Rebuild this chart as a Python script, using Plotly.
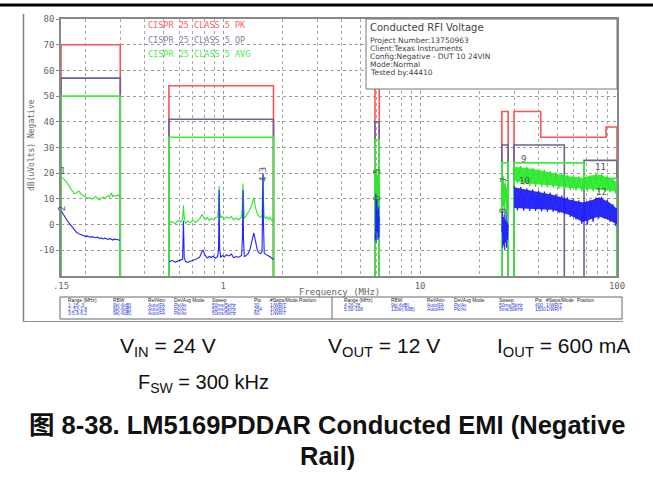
import math
import plotly.graph_objects as go

# ---------------- data ----------------
# CISPR 25 class 5 limit bands (MHz, dBuV)
PK_START = [0.15, 0.53, 5.9, 26, 30, 41, 88]
PK_END = [0.3, 1.8, 6.2, 28, 41, 88, 100]
PK_LEVEL = [70, 54, 53, 44, 44, 34, 38]

QP_START = [0.15, 0.53, 5.9, 26, 30, 68]
QP_END = [0.3, 1.8, 6.2, 28, 54, 100]
QP_LEVEL = [57, 41, 40, 31, 31, 25]

AVG_START = [0.15, 0.53, 5.9, 26, 30, 68]
AVG_END = [0.3, 1.8, 6.2, 28, 68, 100]
AVG_LEVEL = [50, 34, 33, 24, 24, 18]

# Range 1: 0.15 - 0.3 MHz
R1_FREQ = [0.150, 0.155, 0.160, 0.165, 0.170, 0.175, 0.180, 0.185, 0.190, 0.195, 0.200,
           0.205, 0.210, 0.215, 0.220, 0.225, 0.230, 0.235, 0.240, 0.245, 0.250, 0.255,
           0.260, 0.265, 0.270, 0.275, 0.280, 0.285, 0.290, 0.295, 0.300]
R1_PEAK = [18.5, 17.8, 16.5, 14.8, 13.2, 12.0, 12.4, 13.1, 11.8, 11.2, 10.6,
           10.2, 10.5, 9.9, 10.3, 11.0, 10.1, 9.6, 10.3, 10.8, 10.2, 10.6,
           11.2, 10.7, 12.3, 10.9, 11.4, 11.0, 11.6, 11.2, 11.4]
R1_AVG = [5.5, 3.6, 2.0, 0.6, -0.8, -2.0, -3.0, -3.6, -4.0, -4.3, -4.6,
          -4.5, -4.9, -4.7, -5.0, -5.1, -4.9, -5.4, -5.2, -5.6, -5.3, -5.5,
          -5.8, -5.4, -5.7, -6.0, -5.6, -5.9, -5.7, -6.1, -6.0]

# Range 2: 0.53 - 1.8 MHz
R2_FREQ = [0.53, 0.55, 0.57, 0.59, 0.61, 0.622, 0.628, 0.634, 0.645, 0.66, 0.68, 0.70,
           0.72, 0.74, 0.76, 0.78, 0.79, 0.81, 0.83, 0.85, 0.87, 0.89, 0.91, 0.935,
           0.947, 0.953, 0.959, 0.97, 0.99, 1.01, 1.04, 1.07, 1.10, 1.13, 1.16, 1.20,
           1.24, 1.252, 1.26, 1.268, 1.28, 1.31, 1.34, 1.37, 1.40, 1.43, 1.46, 1.49,
           1.52, 1.55, 1.575, 1.585, 1.592, 1.60, 1.615, 1.64, 1.67, 1.70, 1.73, 1.76,
           1.78, 1.80]
R2_PEAK = [0.5, 1.2, 0.3, 1.6, 1.0, 2.0, 7.5, 2.5, 0.4, 1.5, 0.6, 1.8,
           0.9, 1.4, 2.3, 4.0, 3.2, 2.0, 2.8, 1.6, 2.5, 1.9, 2.6, 3.0,
           6.0, 15.0, 6.0, 2.6, 3.3, 2.1, 3.0, 2.4, 3.1, 1.8, 2.6, 1.9,
           3.0, 8.0, 16.0, 8.0, 2.4, 3.5, 4.8, 6.0, 8.0, 10.5, 6.5, 4.2,
           3.2, 2.8, 3.5, 12.0, 20.0, 10.0, 3.0, 2.5, 3.1, 2.0, 2.8, 1.6,
           2.2, 1.4]
R2_AVG = [-14.5, -14.0, -14.6, -14.2, -13.8, -13.5, 1.5, -13.0, -14.4, -14.7, -14.3, -13.8,
          -13.6, -13.2, -12.6, -10.5, -10.0, -12.0, -13.0, -12.4, -12.8, -12.2, -13.1, -12.5,
          -10.0, 13.5, -9.0, -12.8, -12.0, -12.6, -11.8, -12.2, -11.5, -12.9, -12.4, -12.7,
          -12.0, -5.0, 13.5, -6.0, -12.5, -12.0, -11.2, -9.5, -6.0, -3.2, -6.5, -10.0,
          -11.0, -11.3, -10.5, 5.0, 20.0, 2.0, -11.0, -11.6, -11.8, -12.2, -12.5, -13.0,
          -13.4, -13.2]

# Range 3: 5.9 - 6.2 MHz
R3_FREQ = [5.90, 5.92, 5.94, 5.96, 5.98, 6.00, 6.02, 6.04, 6.06, 6.08, 6.10, 6.12, 6.14, 6.16, 6.18, 6.20]
R3_PEAK = [12, 20, 8, 22, 6, 18, 4, 21, 10, 19, 5, 16, 9, 17, 7, 14]
R3_AVG = [-4, 8, -6, 12, -7, 5, -5, 10, -3, 6, -6, 4, -2, 7, -5, 3]

# Range 4: 26 - 28 MHz
R4_FREQ = [26.0, 26.15, 26.3, 26.45, 26.6, 26.75, 26.9, 27.05, 27.2, 27.35, 27.5, 27.65, 27.8, 28.0]
R4_PEAK = [8, 18, 5, 19, 7, 16, 4, 17, 9, 15, 5, 14, 6, 12]
R4_AVG = [-3, 5, -9, 3, -8, 4, -10, 2, -7, 5, -9, 1, -6, 0]

# Range 5: 30 - 100 MHz (dense sweep: envelope + sampled swing)
R5_ENV_FREQ = [30, 35, 40, 47, 57, 67, 75, 81, 91, 100]
R5_PEAK_HI = [22.5, 22.0, 21.2, 20.2, 18.8, 18.2, 19.2, 19.5, 18.2, 16.5]
R5_PEAK_LO = [17.0, 16.0, 15.5, 15.2, 14.3, 13.8, 13.8, 13.6, 13.3, 12.8]
R5_AVG_HI = [14.5, 13.6, 12.8, 11.6, 9.8, 8.6, 9.6, 10.6, 8.8, 6.2]
R5_AVG_LO = [6.5, 6.2, 6.0, 5.8, 3.8, 1.0, 2.2, 3.2, 1.8, 0.0]

R5_FREQ = [30.0, 31.2, 32.4, 33.6, 34.8, 36.0, 37.3, 38.6, 40.0, 41.4, 42.8, 44.3, 45.8,
           47.4, 49.0, 50.7, 52.4, 54.2, 56.0, 57.9, 59.9, 61.9, 64.0, 66.2, 68.4, 70.7,
           73.1, 75.6, 78.2, 80.8, 83.5, 86.3, 89.2, 92.2, 95.3, 98.5, 100.0]
R5_PEAK = [23.0, 16.2, 22.8, 15.6, 22.5, 15.0, 22.0, 14.8, 21.7, 14.6, 21.3, 14.5, 20.8,
           14.4, 20.4, 14.0, 20.0, 13.8, 19.4, 13.5, 19.0, 13.2, 18.8, 12.9, 18.6, 12.8,
           19.2, 12.9, 19.8, 12.7, 19.6, 12.8, 18.9, 12.5, 18.0, 12.0, 16.5]
R5_AVG = [15.0, 5.5, 14.6, 5.4, 14.1, 5.3, 13.7, 5.2, 13.2, 5.1, 12.8, 5.0, 12.5,
          4.9, 11.9, 4.5, 11.3, 4.0, 10.6, 3.0, 10.0, 2.0, 9.4, 0.3, 9.0, 0.0,
          9.6, 1.0, 10.5, 2.3, 10.8, 2.4, 9.6, 1.0, 8.0, -0.5, 6.5]

# marker labels (number, MHz, dBuV, rotated)
MK_NUM = ["1", "2", "3", "4", "5", "6", "7", "8", "9", "10", "11", "12"]
MK_FREQ = [0.152, 0.152, 1.592, 1.592, 6.05, 6.05, 26.6, 26.6, 33.6, 34.0, 82.5, 83.5]
MK_VAL = [20.8, 6.0, 21.5, 17.8, 20.5, 10.0, 17.5, 5.5, 25.5, 17.0, 22.5, 12.8]
MK_ROT = [False, True, True, True, True, True, True, True, False, False, False, False]

Y_TICKS = [-10, 0, 10, 20, 30, 40, 50, 60, 70, 80]
X_TICKS = [0.15, 1, 10, 100]
X_TICKTEXT = [".15", "1", "10", "100"]
X_MINOR = [0.2, 0.3, 0.4, 0.5, 0.6, 0.7, 0.8, 0.9, 2, 3, 4, 5, 6, 7, 8, 9,
           20, 30, 40, 50, 60, 70, 80, 90]

LEGEND_TEXT = ["CISPR 25 CLASS 5 PK", "CISPR 25 CLASS 5 QP", "CISPR 25 CLASS 5 AVG"]
INFO_TITLE = "Conducted RFI Voltage"
INFO_LINES = ["Project Number:13750963", "Client:Texas Instruments",
              "Config:Negative - DUT 10 24VIN", "Mode:Normal", "Tested by:44410"]

TABLE_HEAD = ["Range (MHz)", "RBW", "Ref/Attn", "Det/Avg Mode", "Sweep", "Pts", "#Swps/Mode", "Position"]
TABLE_LEFT = [["1:.15-.3", "9k(-6dB)", "Auto/FA", "Pk/Av", "50ms/5kHz", "30", "1/WRIT"],
              ["2:.53-1.8", "9k(-6dB)", "Auto/FA", "Pk/Av", "50ms/5kHz", "254", "1/WRIT"],
              ["3:5.9-6.2", "9k(-6dB)", "Auto/FA", "Pk/Av", "50ms/5kHz", "60", "1/WRIT"]]
TABLE_RIGHT = [["4:26-28", "9k(-6dB)", "Auto/FA", "Pk/Av", "50ms/5kHz", "400", "1/WRIT"],
               ["5:30-108", "120k(-6dB)", "Auto/FA", "Pk/Av", "5ms/50kHz", "1500", "1/WRIT"]]

# ---------------- geometry helpers (pixel -> paper) ----------------
FIG_W, FIG_H = 653, 478
PL, PR, PT, PB = 61, 617, 19, 276


def px(x):
    return (x - PL) / (PR - PL)


def py(y):
    return (PB - y) / (PB - PT)


def band_path(starts, ends, levels, floor=-20):
    xs, ys = [], []
    n = len(starts)
    for i in range(n):
        prev_cont = i > 0 and starts[i] == ends[i - 1]
        next_cont = i < n - 1 and starts[i + 1] == ends[i]
        if not prev_cont:
            xs += [starts[i], starts[i]]
            ys += [floor, levels[i]]
        else:
            xs += [starts[i]]
            ys += [levels[i]]
        xs += [ends[i]]
        ys += [levels[i]]
        if not next_cont:
            xs += [ends[i], None]
            ys += [floor, None]
    return xs, ys


PK_COL = "#ff5252"
QP_COL = "#6f6294"
AVG_COL = "#3cf03c"
GREEN = "#2ee62e"
BLUE = "#2424ff"

fig = go.Figure()

for s, e, lv, col in [(PK_START, PK_END, PK_LEVEL, PK_COL),
                      (QP_START, QP_END, QP_LEVEL, QP_COL),
                      (AVG_START, AVG_END, AVG_LEVEL, AVG_COL)]:
    xs, ys = band_path(s, e, lv)
    fig.add_trace(go.Scatter(x=xs, y=ys, mode="lines", line=dict(color=col, width=1.6),
                             hoverinfo="skip", showlegend=False))

# envelopes of dense range 5
fig.add_trace(go.Scatter(x=R5_ENV_FREQ + R5_ENV_FREQ[::-1], y=R5_PEAK_HI + R5_PEAK_LO[::-1],
                         fill="toself", fillcolor="rgba(40,235,40,0.9)", mode="lines",
                         line=dict(width=0), showlegend=False, hoverinfo="skip"))

for f, v in [(R1_FREQ, R1_PEAK), (R2_FREQ, R2_PEAK), (R3_FREQ, R3_PEAK), (R4_FREQ, R4_PEAK),
             (R5_FREQ, R5_PEAK)]:
    fig.add_trace(go.Scatter(x=f, y=v, mode="lines", line=dict(color=GREEN, width=1.1),
                             showlegend=False, hoverinfo="skip"))

fig.add_trace(go.Scatter(x=R5_ENV_FREQ + R5_ENV_FREQ[::-1], y=R5_AVG_HI + R5_AVG_LO[::-1],
                         fill="toself", fillcolor="rgba(20,20,245,0.9)", mode="lines",
                         line=dict(width=0), showlegend=False, hoverinfo="skip"))

for f, v in [(R1_FREQ, R1_AVG), (R2_FREQ, R2_AVG), (R3_FREQ, R3_AVG), (R4_FREQ, R4_AVG),
             (R5_FREQ, R5_AVG)]:
    fig.add_trace(go.Scatter(x=f, y=v, mode="lines", line=dict(color=BLUE, width=1.1),
                             showlegend=False, hoverinfo="skip"))

MONO = "DejaVu Sans Mono"
annotations = []

# marker labels
for num, f, v, rot in zip(MK_NUM, MK_FREQ, MK_VAL, MK_ROT):
    annotations.append(dict(x=math.log10(f), y=v, xref="x", yref="y", text=num, showarrow=False,
                            textangle=-90 if rot else 0,
                            font=dict(family=MONO, size=9, color="#555555")))

# legend text
for i, (txt, col) in enumerate(zip(LEGEND_TEXT, ["#ff6060", "#8a80a6", "#4cec4c"])):
    annotations.append(dict(x=px(146), y=py(25 + 14.5 * i), xref="paper", yref="paper", text=txt,
                            showarrow=False, xanchor="left", yanchor="middle",
                            font=dict(family=MONO, size=8.5, color=col)))

# info box
annotations.append(dict(x=px(368), y=py(27), xref="paper", yref="paper", text=INFO_TITLE,
                        showarrow=False, xanchor="left", yanchor="middle",
                        font=dict(family="DejaVu Sans", size=10, color="#444444")))
for i, txt in enumerate(INFO_LINES):
    annotations.append(dict(x=px(368), y=py(40 + 8 * i), xref="paper", yref="paper", text=txt,
                            showarrow=False, xanchor="left", yanchor="middle",
                            font=dict(family="DejaVu Sans", size=7.5, color="#444444")))

# axis titles
annotations.append(dict(x=px(339), y=py(292), xref="paper", yref="paper", text="Frequency (MHz)",
                        showarrow=False, xanchor="center", yanchor="middle",
                        font=dict(family=MONO, size=9, color="#666666")))
annotations.append(dict(x=px(31), y=py(145), xref="paper", yref="paper", text="dB(uVolts) Negative",
                        showarrow=False, textangle=-90, xanchor="center", yanchor="middle",
                        font=dict(family=MONO, size=8, color="#666666")))

# settings table
TAB_FONT = "Liberation Sans"
COLS_L = [66, 111, 146, 172, 210, 252, 268, 297]
COLS_R = [342, 389, 425, 452, 497, 533, 544, 575]
for cols, rows in [(COLS_L, TABLE_LEFT), (COLS_R, TABLE_RIGHT)]:
    for c, h in zip(cols, TABLE_HEAD):
        annotations.append(dict(x=px(c), y=py(300.5), xref="paper", yref="paper", text=h,
                                showarrow=False, xanchor="left", yanchor="middle",
                                font=dict(family=TAB_FONT, size=4.8, color="#222222")))
    for r, row in enumerate(rows):
        for c, val in zip(cols, row):
            annotations.append(dict(x=px(c), y=py(305.3 + 4.2 * r), xref="paper", yref="paper",
                                    text=val, showarrow=False, xanchor="left", yanchor="middle",
                                    font=dict(family=TAB_FONT, size=4.8, color="#2a3ae0")))

# caption texts
CAP = "Liberation Sans, Arial, sans-serif"
for txt, cx, cy, sz in [("V<sub>IN</sub> = 24 V", 168, 347, 21), ("V<sub>OUT</sub> = 12 V", 384, 347, 21),
                        ("I<sub>OUT</sub> = 600 mA", 563, 347, 21), ("F<sub>SW</sub> = 300 kHz", 203, 383, 20)]:
    annotations.append(dict(x=px(cx), y=py(cy), xref="paper", yref="paper", text=txt,
                            showarrow=False, xanchor="center", yanchor="middle",
                            font=dict(family=CAP, size=sz, color="#111111")))
TITLE_FONT = "Liberation Sans, Noto Sans CJK SC, sans-serif"
annotations.append(dict(x=px(327), y=py(425), xref="paper", yref="paper",
                        text="<b>图 8-38. LM5169PDDAR Conducted EMI (Negative</b>",
                        showarrow=False, xanchor="center", yanchor="middle",
                        font=dict(family=TITLE_FONT, size=25.5, color="#111111")))
annotations.append(dict(x=px(327), y=py(456), xref="paper", yref="paper", text="<b>Rail)</b>",
                        showarrow=False, xanchor="center", yanchor="middle",
                        font=dict(family=TITLE_FONT, size=25.5, color="#111111")))

shapes = [
    # info box
    dict(type="rect", xref="paper", yref="paper", x0=px(366), x1=px(617), y0=py(19), y1=py(89),
         fillcolor="white", line=dict(color="#777777", width=1), layer="above"),
    # settings table box and divider
    dict(type="rect", xref="paper", yref="paper", x0=px(60), x1=px(622), y0=py(297), y1=py(319),
         line=dict(color="#666666", width=1)),
    dict(type="line", xref="paper", yref="paper", x0=px(332), x1=px(332), y0=py(297), y1=py(319),
         line=dict(color="#666666", width=1)),
    # document frame: left rule, bottom rule and the dark top rule
    dict(type="line", xref="paper", yref="paper", x0=px(23.5), x1=px(23.5), y0=py(14), y1=py(322),
         line=dict(color="#808080", width=1.5)),
    dict(type="line", xref="paper", yref="paper", x0=px(23), x1=px(623), y0=py(321.5), y1=py(321.5),
         line=dict(color="#909090", width=1.2)),
    dict(type="line", xref="paper", yref="paper", x0=px(0), x1=px(653), y0=py(5), y1=py(5),
         line=dict(color="#000000", width=3)),
]

fig.update_layout(
    width=FIG_W, height=FIG_H,
    margin=dict(l=PL, r=FIG_W - PR, t=PT, b=FIG_H - PB, pad=0),
    paper_bgcolor="white", plot_bgcolor="white",
    showlegend=False,
    annotations=annotations,
    shapes=shapes,
    xaxis=dict(type="log", range=[math.log10(0.15), 2], tickvals=X_TICKS, ticktext=X_TICKTEXT,
               showgrid=True, gridcolor="#9a9a9a", griddash="dot", gridwidth=1,
               minor=dict(tickvals=X_MINOR, showgrid=True, gridcolor="#a8a8a8", griddash="dot",
                          gridwidth=1, ticks=""),
               showline=True, linecolor="#888888", linewidth=1.5, mirror=True, ticks="",
               tickfont=dict(family=MONO, size=9, color="#666666"), zeroline=False),
    yaxis=dict(range=[-20, 80], tickvals=Y_TICKS, ticktext=[str(t) for t in Y_TICKS],
               showgrid=True, gridcolor="#9a9a9a", griddash="dot", gridwidth=1,
               showline=True, linecolor="#888888", linewidth=1.5, mirror=True,
               ticks="outside", ticklen=3, tickcolor="#888888",
               tickfont=dict(family=MONO, size=9, color="#666666"), zeroline=False),
)

fig.write_html("out.html", config={"displayModeBar": False})

# zero page margin so the figure sits at the window's corner
with open("out.html", "r", encoding="utf-8") as fh:
    page = fh.read()
page = page.replace("<head>", "<head><style>html,body{margin:0;padding:0;}</style>", 1)
with open("out.html", "w", encoding="utf-8") as fh:
    fh.write(page)
